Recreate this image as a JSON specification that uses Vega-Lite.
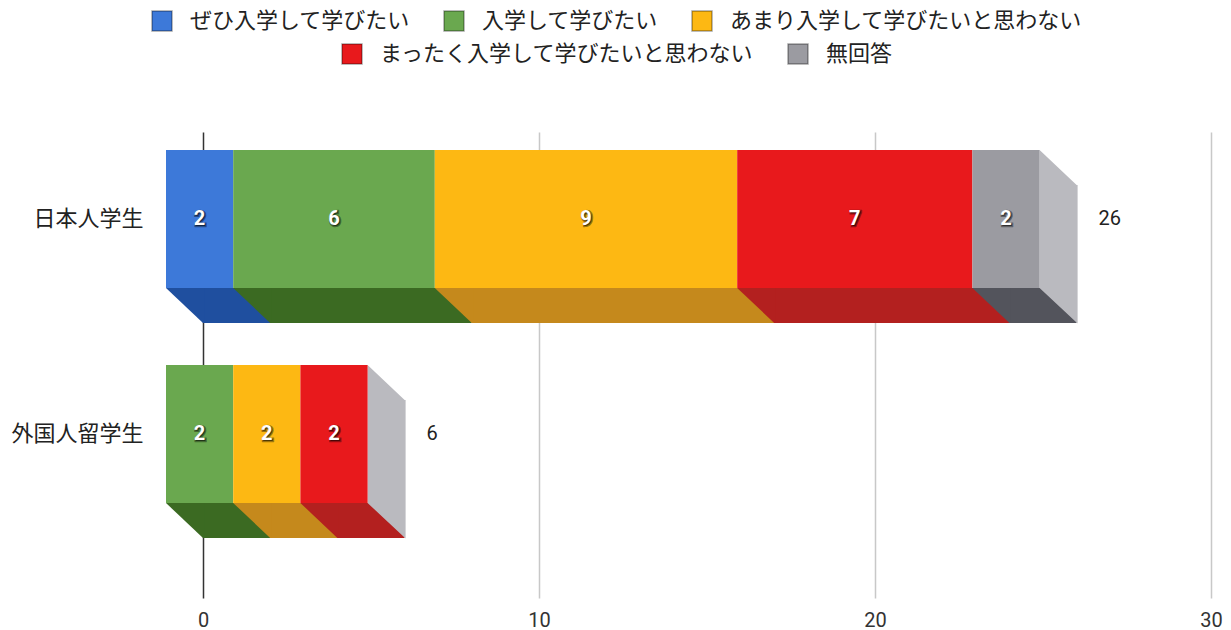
{
  "$schema": "https://vega.github.io/schema/vega-lite/v6.json",
  "autosize": "none",
  "width": 1008,
  "height": 466,
  "padding": {"left": 203, "top": 132, "right": 20, "bottom": 32},
  "background": "#ffffff",
  "config": {"view": {"stroke": null}},
  "data": {
    "values": [
      {"group": "日本人学生", "answer": "ぜひ入学して学びたい", "n": 2},
      {"group": "日本人学生", "answer": "入学して学びたい", "n": 6},
      {"group": "日本人学生", "answer": "あまり入学して学びたいと思わない", "n": 9},
      {"group": "日本人学生", "answer": "まったく入学して学びたいと思わない", "n": 7},
      {"group": "日本人学生", "answer": "無回答", "n": 2},
      {"group": "外国人留学生", "answer": "入学して学びたい", "n": 2},
      {"group": "外国人留学生", "answer": "あまり入学して学びたいと思わない", "n": 2},
      {"group": "外国人留学生", "answer": "まったく入学して学びたいと思わない", "n": 2}
    ]
  },
  "transform": [
    {"stack": "n", "groupby": ["group"], "as": ["v0", "v1"]}
  ],
  "encoding": {
    "y": {
      "field": "group",
      "type": "nominal",
      "scale": {"domain": ["日本人学生", "外国人留学生"], "paddingInner": 0.35814, "paddingOuter": 0.26279, "align": 0.1593},
      "axis": {"title": null, "domain": false, "ticks": false, "tickSize": 0, "labelFont": "Noto Sans CJK JP", "labelFontSize": 22, "labelColor": "#222222", "labelPadding": 60}
    }
  },
  "layer": [
    {
      "mark": {"type": "bar", "height": 35, "yOffset": 86.5},
      "encoding": {
        "x": {
          "field": "v0", "type": "quantitative",
          "scale": {"domain": [0, 30], "nice": false},
          "axis": {"title": null, "domain": false, "ticks": false, "tickSize": 0, "values": [0, 10, 20, 30], "grid": true,
            "gridColor": {"condition": {"test": "datum.value === 0", "value": "#333333"}, "value": "#c8c8c8"},
            "gridWidth": 1.5, "labelFont": "Roboto", "labelFontSize": 20, "labelColor": "#333333", "labelPadding": 12, "labelFlush": false}
        },
        "x2": {"field": "v1"},
        "color": {
          "field": "answer", "type": "nominal",
          "scale": {"domain": ["ぜひ入学して学びたい", "入学して学びたい", "あまり入学して学びたいと思わない", "まったく入学して学びたいと思わない", "無回答"],
                    "range": ["#1f4f9f", "#3b6a22", "#c5891c", "#b3201f", "#53545c"]},
          "legend": null
        }
      }
    },
    {
      "mark": {"type": "point", "shape": "M -37 69 L 1.5 69 L 1.5 104 L 0 104 Z", "size": 4, "filled": true, "opacity": 1, "strokeWidth": 0},
      "encoding": {
        "x": {"field": "v0", "type": "quantitative"},
        "color": {
          "field": "answer", "type": "nominal",
          "scale": {"domain": ["ぜひ入学して学びたい", "入学して学びたい", "あまり入学して学びたいと思わない", "まったく入学して学びたいと思わない", "無回答"],
                    "range": ["#1f4f9f", "#3b6a22", "#c5891c", "#b3201f", "#53545c"]},
          "legend": null
        }
      }
    },
    {
      "transform": [{"aggregate": [{"op": "sum", "field": "n", "as": "total"}], "groupby": ["group"]}],
      "mark": {"type": "point", "shape": "M -37 -69 L 0 -34 L 1 -34 L 1 104.5 L -37 69 Z", "size": 4, "filled": true, "opacity": 1, "strokeWidth": 0, "color": "#bababf"},
      "encoding": {
        "x": {"field": "total", "type": "quantitative"}
      }
    },
    {
      "transform": [{"filter": {"field": "answer", "oneOf": ["ぜひ入学して学びたい", "入学して学びたい", "あまり入学して学びたいと思わない"]}}],
      "mark": {"type": "bar", "xOffset": -37, "x2Offset": -37},
      "encoding": {
        "x": {"field": "v0", "type": "quantitative"},
        "x2": {"field": "v1"},
        "color": {
          "field": "answer", "type": "nominal",
          "scale": {"domain": ["ぜひ入学して学びたい", "入学して学びたい", "あまり入学して学びたいと思わない"],
                    "range": ["#3d79d9", "#6aa84f", "#fdb813"]},
          "legend": {"orient": "none", "legendX": -52, "legendY": -122, "direction": "horizontal", "title": null,
                     "symbolType": "square", "symbolSize": 400, "symbolStrokeColor": "rgba(0,0,0,0.35)", "symbolStrokeWidth": 1.5,
                     "labelFont": "Noto Sans CJK JP", "labelFontSize": 22, "labelColor": "#222222", "labelOffset": 17,
                     "columnPadding": 30, "labelLimit": 0}
        }
      }
    },
    {
      "transform": [{"filter": {"field": "answer", "oneOf": ["まったく入学して学びたいと思わない", "無回答"]}}],
      "mark": {"type": "bar", "xOffset": -37, "x2Offset": -37},
      "encoding": {
        "x": {"field": "v0", "type": "quantitative"},
        "x2": {"field": "v1"},
        "color": {
          "field": "answer", "type": "nominal",
          "scale": {"domain": ["まったく入学して学びたいと思わない", "無回答"],
                    "range": ["#e8191c", "#9b9ba1"]},
          "legend": {"orient": "none", "legendX": 138, "legendY": -89, "direction": "horizontal", "title": null,
                     "symbolType": "square", "symbolSize": 400, "symbolStrokeColor": "rgba(0,0,0,0.35)", "symbolStrokeWidth": 1.5,
                     "labelFont": "Noto Sans CJK JP", "labelFontSize": 22, "labelColor": "#222222", "labelOffset": 17,
                     "columnPadding": 30, "labelLimit": 0}
        }
      }
    },
    {
      "transform": [
        {"fold": ["v0", "v1"], "as": ["edge", "pos"]},
        {"aggregate": [{"op": "mean", "field": "pos", "as": "mid"}], "groupby": ["group", "answer", "n"]}
      ],
      "mark": {"type": "text", "dx": -36, "dy": 1, "font": "Roboto", "fontSize": 20, "fontWeight": "bold", "fill": "rgba(0,0,0,0.5)", "stroke": "rgba(0,0,0,0.4)", "strokeWidth": 2.5},
      "encoding": {
        "x": {"field": "mid", "type": "quantitative"},
        "text": {"field": "n", "type": "quantitative"}
      }
    },
    {
      "transform": [
        {"fold": ["v0", "v1"], "as": ["edge", "pos"]},
        {"aggregate": [{"op": "mean", "field": "pos", "as": "mid"}], "groupby": ["group", "answer", "n"]}
      ],
      "mark": {"type": "text", "dx": -37, "font": "Roboto", "fontSize": 20, "fontWeight": "bold", "fill": "#ffffff"},
      "encoding": {
        "x": {"field": "mid", "type": "quantitative"},
        "text": {"field": "n", "type": "quantitative"}
      }
    },
    {
      "transform": [{"aggregate": [{"op": "sum", "field": "n", "as": "total"}], "groupby": ["group"]}],
      "mark": {"type": "text", "align": "left", "dx": 22, "font": "Roboto", "fontSize": 20, "fill": "#222222"},
      "encoding": {
        "x": {"field": "total", "type": "quantitative"},
        "text": {"field": "total", "type": "quantitative"}
      }
    }
  ],
  "resolve": {"scale": {"color": "independent"}}
}
